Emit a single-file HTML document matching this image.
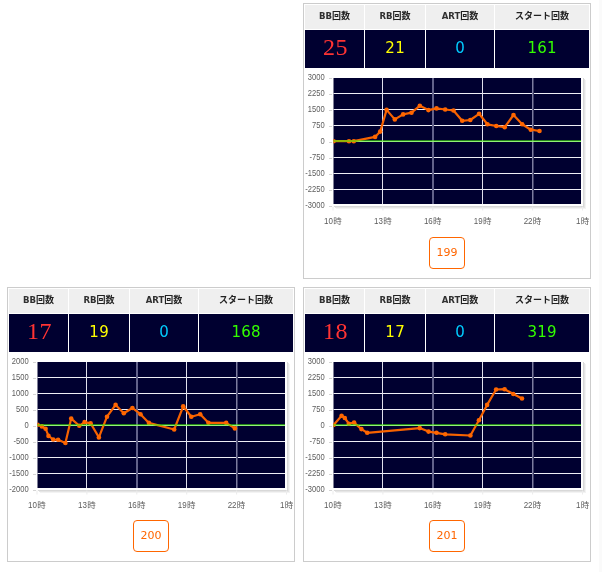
<!DOCTYPE html>
<html lang="ja"><head><meta charset="utf-8"><title>data</title>
<style>
html,body{margin:0;padding:0;background:#fff;}
body{width:602px;height:572px;position:relative;overflow:hidden;font-family:"DejaVu Sans","Noto Sans CJK JP",sans-serif;}
.strip{position:absolute;left:599px;top:0;width:3px;height:572px;background:#fafafa;}
.card{position:absolute;width:286px;border:1px solid #ccc;background:#fff;overflow:hidden;}
.h,.v{position:absolute;text-align:center;white-space:nowrap;}
.h{top:1px;height:24px;line-height:22px;background:#efefef;color:#222;font-weight:bold;font-size:9px;font-family:"Liberation Sans","Noto Sans CJK JP",sans-serif;}
.h b{color:#303030;font-family:"DejaVu Sans Condensed","DejaVu Sans","Liberation Sans",sans-serif;font-stretch:condensed;font-size:9.5px;}
.v{top:26px;height:38px;line-height:37px;background:#000030;font-family:"DejaVu Sans",sans-serif;font-size:15px;letter-spacing:0.3px;text-indent:0.3px;}
.c1{left:1px;width:59px}.c2{left:61px;width:60px}.c3{left:122px;width:68px}.c4{left:191px;width:94px}
.v.c1{color:#ff3333;font-family:"Liberation Serif",serif;font-size:24px;line-height:34px;text-indent:2.2px;letter-spacing:0.6px;}
.v.c2{color:#ffff00;}
.v.c3{color:#00ccff;}
.v.c4{color:#33ff00;}
svg{position:absolute;left:-1px;top:-1px;}
.yl{font-family:"Liberation Sans",sans-serif;font-size:8.4px;fill:#5c5c5c;text-anchor:end;}
.xd{font-family:"Liberation Sans",sans-serif;font-size:8.4px;fill:#5c5c5c;text-anchor:end;}
.xk{font-family:"Liberation Sans","Noto Sans CJK JP",sans-serif;font-size:8.5px;fill:#5c5c5c;text-anchor:start;}
.btn{position:absolute;left:125px;top:233px;width:34px;height:30px;line-height:30px;border:1px solid #ff6600;border-radius:4px;color:#ff6600;font-size:11px;text-align:center;background:#fff;}
</style></head><body>
<div class="strip"></div>
<div class="card" style="left:303px;top:3px;height:274px">
<svg width="288" height="276" viewBox="0 0 288 276">
<defs><clipPath id="cp199"><rect x="30.5" y="75.0" width="247.5" height="126.0"/></clipPath></defs>
<rect x="280" y="75" width="1" height="129" fill="#d8d8d8"/>
<rect x="31" y="203" width="250" height="1" fill="#d8d8d8"/>
<rect x="281" y="76" width="1" height="129" fill="#e5e5e5"/>
<rect x="32" y="204" width="250" height="1" fill="#e5e5e5"/>
<rect x="282" y="77" width="1" height="129" fill="#f3f3f3"/>
<rect x="33" y="205" width="250" height="1" fill="#f3f3f3"/>
<rect x="30.5" y="75.0" width="247.5" height="126.0" fill="#000030"/>
<rect x="30.5" y="90" width="247.5" height="1" fill="#eeeef5"/>
<rect x="30.5" y="106" width="247.5" height="1" fill="#eeeef5"/>
<rect x="30.5" y="122" width="247.5" height="1" fill="#eeeef5"/>
<rect x="30.5" y="154" width="247.5" height="1" fill="#eeeef5"/>
<rect x="30.5" y="170" width="247.5" height="1" fill="#eeeef5"/>
<rect x="30.5" y="186" width="247.5" height="1" fill="#eeeef5"/>
<rect x="79.0" y="75.0" width="1" height="126.0" fill="#e0e0ec"/>
<rect x="129" y="75.0" width="1" height="126.0" fill="#62628a"/><rect x="130" y="75.0" width="1" height="126.0" fill="#62628a"/>
<rect x="179.0" y="75.0" width="1" height="126.0" fill="#e0e0ec"/>
<rect x="229" y="75.0" width="1" height="126.0" fill="#7c7c9f"/><rect x="230" y="75.0" width="1" height="126.0" fill="#3e3e66"/>
<rect x="26" y="75" width="3" height="1" fill="#d4d4d4"/>
<text class="yl" transform="translate(21.6,77.2) scale(0.9,1)">3000</text>
<rect x="26" y="91" width="3" height="1" fill="#d4d4d4"/>
<text class="yl" transform="translate(21.6,93.2) scale(0.9,1)">2250</text>
<rect x="26" y="107" width="3" height="1" fill="#d4d4d4"/>
<text class="yl" transform="translate(21.6,109.2) scale(0.9,1)">1500</text>
<rect x="26" y="123" width="3" height="1" fill="#d4d4d4"/>
<text class="yl" transform="translate(21.6,125.2) scale(0.9,1)">750</text>
<rect x="26" y="139" width="3" height="1" fill="#d4d4d4"/>
<text class="yl" transform="translate(21.6,141.2) scale(0.9,1)">0</text>
<rect x="26" y="155" width="3" height="1" fill="#d4d4d4"/>
<text class="yl" transform="translate(21.6,157.2) scale(0.9,1)">-750</text>
<rect x="26" y="171" width="3" height="1" fill="#d4d4d4"/>
<text class="yl" transform="translate(21.6,173.2) scale(0.9,1)">-1500</text>
<rect x="26" y="187" width="3" height="1" fill="#d4d4d4"/>
<text class="yl" transform="translate(21.6,189.2) scale(0.9,1)">-2250</text>
<rect x="26" y="203" width="3" height="1" fill="#d4d4d4"/>
<text class="yl" transform="translate(21.6,205.2) scale(0.9,1)">-3000</text>
<rect x="29.50" y="203.5" width="1" height="4" fill="#ececec"/>
<text class="xd" transform="translate(29.95,221.2) scale(0.95,1)">10</text><text class="xk" x="30.25" y="220.7">時</text>
<rect x="79.40" y="203.5" width="1" height="4" fill="#ececec"/>
<text class="xd" transform="translate(79.85,221.2) scale(0.95,1)">13</text><text class="xk" x="80.15" y="220.7">時</text>
<rect x="129.30" y="203.5" width="1" height="4" fill="#ececec"/>
<text class="xd" transform="translate(129.75,221.2) scale(0.95,1)">16</text><text class="xk" x="130.05" y="220.7">時</text>
<rect x="179.20" y="203.5" width="1" height="4" fill="#ececec"/>
<text class="xd" transform="translate(179.65,221.2) scale(0.95,1)">19</text><text class="xk" x="179.95" y="220.7">時</text>
<rect x="229.10" y="203.5" width="1" height="4" fill="#ececec"/>
<text class="xd" transform="translate(229.55,221.2) scale(0.95,1)">22</text><text class="xk" x="229.85" y="220.7">時</text>
<rect x="279.00" y="203.5" width="1" height="4" fill="#ececec"/>
<text class="xd" transform="translate(277.35,221.2) scale(0.95,1)">1</text><text class="xk" x="277.65" y="220.7">時</text>
<rect x="30.5" y="138" width="247.5" height="1" fill="#eeeef5"/>
<g clip-path="url(#cp199)">
<polyline points="30.6,138.2 46.0,138.2 50.8,138.2 72.1,133.9 77.2,128.6 83.6,106.9 91.8,116.4 100.1,111.4 108.5,109.7 116.8,102.8 125.4,107.1 133.5,105.4 142.2,106.5 150.5,107.5 159.2,117.8 167.3,117.0 176.1,110.8 184.4,121.3 193.3,123.0 201.7,124.2 210.5,112.0 219.2,121.3 227.8,126.7 236.5,128.0" fill="none" stroke="#f66200" stroke-width="2.2" stroke-linejoin="round" stroke-linecap="round"/>
<circle cx="30.6" cy="138.2" r="2.3" fill="#ff6600"/>
<circle cx="46.0" cy="138.2" r="2.3" fill="#ff6600"/>
<circle cx="50.8" cy="138.2" r="2.3" fill="#ff6600"/>
<circle cx="72.1" cy="133.9" r="2.3" fill="#ff6600"/>
<circle cx="77.2" cy="128.6" r="2.3" fill="#ff6600"/>
<circle cx="83.6" cy="106.9" r="2.3" fill="#ff6600"/>
<circle cx="91.8" cy="116.4" r="2.3" fill="#ff6600"/>
<circle cx="100.1" cy="111.4" r="2.3" fill="#ff6600"/>
<circle cx="108.5" cy="109.7" r="2.3" fill="#ff6600"/>
<circle cx="116.8" cy="102.8" r="2.3" fill="#ff6600"/>
<circle cx="125.4" cy="107.1" r="2.3" fill="#ff6600"/>
<circle cx="133.5" cy="105.4" r="2.3" fill="#ff6600"/>
<circle cx="142.2" cy="106.5" r="2.3" fill="#ff6600"/>
<circle cx="150.5" cy="107.5" r="2.3" fill="#ff6600"/>
<circle cx="159.2" cy="117.8" r="2.3" fill="#ff6600"/>
<circle cx="167.3" cy="117.0" r="2.3" fill="#ff6600"/>
<circle cx="176.1" cy="110.8" r="2.3" fill="#ff6600"/>
<circle cx="184.4" cy="121.3" r="2.3" fill="#ff6600"/>
<circle cx="193.3" cy="123.0" r="2.3" fill="#ff6600"/>
<circle cx="201.7" cy="124.2" r="2.3" fill="#ff6600"/>
<circle cx="210.5" cy="112.0" r="2.3" fill="#ff6600"/>
<circle cx="219.2" cy="121.3" r="2.3" fill="#ff6600"/>
<circle cx="227.8" cy="126.7" r="2.3" fill="#ff6600"/>
<circle cx="236.5" cy="128.0" r="2.3" fill="#ff6600"/>
</g>
<rect x="30.5" y="137" width="247.5" height="2" fill="#46f50a" opacity="0.55"/>
</svg>
<div class="h c1"><b>BB</b>回数</div>
<div class="h c2"><b>RB</b>回数</div>
<div class="h c3"><b>ART</b>回数</div>
<div class="h c4">スタート回数</div>
<div class="v c1">25</div>
<div class="v c2">21</div>
<div class="v c3">0</div>
<div class="v c4">161</div>
<div class="btn" style="top:233px">199</div>
</div>
<div class="card" style="left:7px;top:287px;height:273px">
<svg width="288" height="275" viewBox="0 0 288 275">
<defs><clipPath id="cp200"><rect x="30.5" y="75.0" width="247.5" height="126.0"/></clipPath></defs>
<rect x="280" y="75" width="1" height="129" fill="#d8d8d8"/>
<rect x="31" y="203" width="250" height="1" fill="#d8d8d8"/>
<rect x="281" y="76" width="1" height="129" fill="#e5e5e5"/>
<rect x="32" y="204" width="250" height="1" fill="#e5e5e5"/>
<rect x="282" y="77" width="1" height="129" fill="#f3f3f3"/>
<rect x="33" y="205" width="250" height="1" fill="#f3f3f3"/>
<rect x="30.5" y="75.0" width="247.5" height="126.0" fill="#000030"/>
<rect x="30.5" y="90" width="247.5" height="1" fill="#eeeef5"/>
<rect x="30.5" y="106" width="247.5" height="1" fill="#eeeef5"/>
<rect x="30.5" y="122" width="247.5" height="1" fill="#eeeef5"/>
<rect x="30.5" y="154" width="247.5" height="1" fill="#eeeef5"/>
<rect x="30.5" y="170" width="247.5" height="1" fill="#eeeef5"/>
<rect x="30.5" y="186" width="247.5" height="1" fill="#eeeef5"/>
<rect x="79.0" y="75.0" width="1" height="126.0" fill="#e0e0ec"/>
<rect x="129" y="75.0" width="1" height="126.0" fill="#62628a"/><rect x="130" y="75.0" width="1" height="126.0" fill="#62628a"/>
<rect x="179.0" y="75.0" width="1" height="126.0" fill="#e0e0ec"/>
<rect x="229" y="75.0" width="1" height="126.0" fill="#7c7c9f"/><rect x="230" y="75.0" width="1" height="126.0" fill="#3e3e66"/>
<rect x="26" y="75" width="3" height="1" fill="#d4d4d4"/>
<text class="yl" transform="translate(21.6,77.2) scale(0.9,1)">2000</text>
<rect x="26" y="91" width="3" height="1" fill="#d4d4d4"/>
<text class="yl" transform="translate(21.6,93.2) scale(0.9,1)">1500</text>
<rect x="26" y="107" width="3" height="1" fill="#d4d4d4"/>
<text class="yl" transform="translate(21.6,109.2) scale(0.9,1)">1000</text>
<rect x="26" y="123" width="3" height="1" fill="#d4d4d4"/>
<text class="yl" transform="translate(21.6,125.2) scale(0.9,1)">500</text>
<rect x="26" y="139" width="3" height="1" fill="#d4d4d4"/>
<text class="yl" transform="translate(21.6,141.2) scale(0.9,1)">0</text>
<rect x="26" y="155" width="3" height="1" fill="#d4d4d4"/>
<text class="yl" transform="translate(21.6,157.2) scale(0.9,1)">-500</text>
<rect x="26" y="171" width="3" height="1" fill="#d4d4d4"/>
<text class="yl" transform="translate(21.6,173.2) scale(0.9,1)">-1000</text>
<rect x="26" y="187" width="3" height="1" fill="#d4d4d4"/>
<text class="yl" transform="translate(21.6,189.2) scale(0.9,1)">-1500</text>
<rect x="26" y="203" width="3" height="1" fill="#d4d4d4"/>
<text class="yl" transform="translate(21.6,205.2) scale(0.9,1)">-2000</text>
<rect x="29.50" y="203.5" width="1" height="4" fill="#ececec"/>
<text class="xd" transform="translate(29.95,221.2) scale(0.95,1)">10</text><text class="xk" x="30.25" y="220.7">時</text>
<rect x="79.40" y="203.5" width="1" height="4" fill="#ececec"/>
<text class="xd" transform="translate(79.85,221.2) scale(0.95,1)">13</text><text class="xk" x="80.15" y="220.7">時</text>
<rect x="129.30" y="203.5" width="1" height="4" fill="#ececec"/>
<text class="xd" transform="translate(129.75,221.2) scale(0.95,1)">16</text><text class="xk" x="130.05" y="220.7">時</text>
<rect x="179.20" y="203.5" width="1" height="4" fill="#ececec"/>
<text class="xd" transform="translate(179.65,221.2) scale(0.95,1)">19</text><text class="xk" x="179.95" y="220.7">時</text>
<rect x="229.10" y="203.5" width="1" height="4" fill="#ececec"/>
<text class="xd" transform="translate(229.55,221.2) scale(0.95,1)">22</text><text class="xk" x="229.85" y="220.7">時</text>
<rect x="279.00" y="203.5" width="1" height="4" fill="#ececec"/>
<text class="xd" transform="translate(277.35,221.2) scale(0.95,1)">1</text><text class="xk" x="277.65" y="220.7">時</text>
<rect x="30.5" y="138" width="247.5" height="1" fill="#eeeef5"/>
<g clip-path="url(#cp200)">
<polyline points="30.6,137.7 34.9,139.4 38.6,141.7 41.5,148.9 46.2,152.5 51.1,152.8 58.4,156.0 64.2,131.6 72.3,138.8 77.6,135.1 83.6,136.3 91.9,150.4 100.0,129.7 108.6,117.9 116.8,126.3 125.4,121.0 133.5,127.2 141.9,135.9 167.2,142.5 176.2,119.3 184.3,129.7 193.2,127.2 201.4,135.8 219.2,135.9 227.9,141.4" fill="none" stroke="#f66200" stroke-width="2.2" stroke-linejoin="round" stroke-linecap="round"/>
<circle cx="30.6" cy="137.7" r="2.3" fill="#ff6600"/>
<circle cx="34.9" cy="139.4" r="2.3" fill="#ff6600"/>
<circle cx="38.6" cy="141.7" r="2.3" fill="#ff6600"/>
<circle cx="41.5" cy="148.9" r="2.3" fill="#ff6600"/>
<circle cx="46.2" cy="152.5" r="2.3" fill="#ff6600"/>
<circle cx="51.1" cy="152.8" r="2.3" fill="#ff6600"/>
<circle cx="58.4" cy="156.0" r="2.3" fill="#ff6600"/>
<circle cx="64.2" cy="131.6" r="2.3" fill="#ff6600"/>
<circle cx="72.3" cy="138.8" r="2.3" fill="#ff6600"/>
<circle cx="77.6" cy="135.1" r="2.3" fill="#ff6600"/>
<circle cx="83.6" cy="136.3" r="2.3" fill="#ff6600"/>
<circle cx="91.9" cy="150.4" r="2.3" fill="#ff6600"/>
<circle cx="100.0" cy="129.7" r="2.3" fill="#ff6600"/>
<circle cx="108.6" cy="117.9" r="2.3" fill="#ff6600"/>
<circle cx="116.8" cy="126.3" r="2.3" fill="#ff6600"/>
<circle cx="125.4" cy="121.0" r="2.3" fill="#ff6600"/>
<circle cx="133.5" cy="127.2" r="2.3" fill="#ff6600"/>
<circle cx="141.9" cy="135.9" r="2.3" fill="#ff6600"/>
<circle cx="167.2" cy="142.5" r="2.3" fill="#ff6600"/>
<circle cx="176.2" cy="119.3" r="2.3" fill="#ff6600"/>
<circle cx="184.3" cy="129.7" r="2.3" fill="#ff6600"/>
<circle cx="193.2" cy="127.2" r="2.3" fill="#ff6600"/>
<circle cx="201.4" cy="135.8" r="2.3" fill="#ff6600"/>
<circle cx="219.2" cy="135.9" r="2.3" fill="#ff6600"/>
<circle cx="227.9" cy="141.4" r="2.3" fill="#ff6600"/>
</g>
<rect x="30.5" y="137" width="247.5" height="2" fill="#46f50a" opacity="0.55"/>
</svg>
<div class="h c1"><b>BB</b>回数</div>
<div class="h c2"><b>RB</b>回数</div>
<div class="h c3"><b>ART</b>回数</div>
<div class="h c4">スタート回数</div>
<div class="v c1">17</div>
<div class="v c2">19</div>
<div class="v c3">0</div>
<div class="v c4">168</div>
<div class="btn" style="top:232px">200</div>
</div>
<div class="card" style="left:303px;top:287px;height:273px">
<svg width="288" height="275" viewBox="0 0 288 275">
<defs><clipPath id="cp201"><rect x="30.5" y="75.0" width="247.5" height="126.0"/></clipPath></defs>
<rect x="280" y="75" width="1" height="129" fill="#d8d8d8"/>
<rect x="31" y="203" width="250" height="1" fill="#d8d8d8"/>
<rect x="281" y="76" width="1" height="129" fill="#e5e5e5"/>
<rect x="32" y="204" width="250" height="1" fill="#e5e5e5"/>
<rect x="282" y="77" width="1" height="129" fill="#f3f3f3"/>
<rect x="33" y="205" width="250" height="1" fill="#f3f3f3"/>
<rect x="30.5" y="75.0" width="247.5" height="126.0" fill="#000030"/>
<rect x="30.5" y="90" width="247.5" height="1" fill="#eeeef5"/>
<rect x="30.5" y="106" width="247.5" height="1" fill="#eeeef5"/>
<rect x="30.5" y="122" width="247.5" height="1" fill="#eeeef5"/>
<rect x="30.5" y="154" width="247.5" height="1" fill="#eeeef5"/>
<rect x="30.5" y="170" width="247.5" height="1" fill="#eeeef5"/>
<rect x="30.5" y="186" width="247.5" height="1" fill="#eeeef5"/>
<rect x="79.0" y="75.0" width="1" height="126.0" fill="#e0e0ec"/>
<rect x="129" y="75.0" width="1" height="126.0" fill="#62628a"/><rect x="130" y="75.0" width="1" height="126.0" fill="#62628a"/>
<rect x="179.0" y="75.0" width="1" height="126.0" fill="#e0e0ec"/>
<rect x="229" y="75.0" width="1" height="126.0" fill="#7c7c9f"/><rect x="230" y="75.0" width="1" height="126.0" fill="#3e3e66"/>
<rect x="26" y="75" width="3" height="1" fill="#d4d4d4"/>
<text class="yl" transform="translate(21.6,77.2) scale(0.9,1)">3000</text>
<rect x="26" y="91" width="3" height="1" fill="#d4d4d4"/>
<text class="yl" transform="translate(21.6,93.2) scale(0.9,1)">2250</text>
<rect x="26" y="107" width="3" height="1" fill="#d4d4d4"/>
<text class="yl" transform="translate(21.6,109.2) scale(0.9,1)">1500</text>
<rect x="26" y="123" width="3" height="1" fill="#d4d4d4"/>
<text class="yl" transform="translate(21.6,125.2) scale(0.9,1)">750</text>
<rect x="26" y="139" width="3" height="1" fill="#d4d4d4"/>
<text class="yl" transform="translate(21.6,141.2) scale(0.9,1)">0</text>
<rect x="26" y="155" width="3" height="1" fill="#d4d4d4"/>
<text class="yl" transform="translate(21.6,157.2) scale(0.9,1)">-750</text>
<rect x="26" y="171" width="3" height="1" fill="#d4d4d4"/>
<text class="yl" transform="translate(21.6,173.2) scale(0.9,1)">-1500</text>
<rect x="26" y="187" width="3" height="1" fill="#d4d4d4"/>
<text class="yl" transform="translate(21.6,189.2) scale(0.9,1)">-2250</text>
<rect x="26" y="203" width="3" height="1" fill="#d4d4d4"/>
<text class="yl" transform="translate(21.6,205.2) scale(0.9,1)">-3000</text>
<rect x="29.50" y="203.5" width="1" height="4" fill="#ececec"/>
<text class="xd" transform="translate(29.95,221.2) scale(0.95,1)">10</text><text class="xk" x="30.25" y="220.7">時</text>
<rect x="79.40" y="203.5" width="1" height="4" fill="#ececec"/>
<text class="xd" transform="translate(79.85,221.2) scale(0.95,1)">13</text><text class="xk" x="80.15" y="220.7">時</text>
<rect x="129.30" y="203.5" width="1" height="4" fill="#ececec"/>
<text class="xd" transform="translate(129.75,221.2) scale(0.95,1)">16</text><text class="xk" x="130.05" y="220.7">時</text>
<rect x="179.20" y="203.5" width="1" height="4" fill="#ececec"/>
<text class="xd" transform="translate(179.65,221.2) scale(0.95,1)">19</text><text class="xk" x="179.95" y="220.7">時</text>
<rect x="229.10" y="203.5" width="1" height="4" fill="#ececec"/>
<text class="xd" transform="translate(229.55,221.2) scale(0.95,1)">22</text><text class="xk" x="229.85" y="220.7">時</text>
<rect x="279.00" y="203.5" width="1" height="4" fill="#ececec"/>
<text class="xd" transform="translate(277.35,221.2) scale(0.95,1)">1</text><text class="xk" x="277.65" y="220.7">時</text>
<rect x="30.5" y="138" width="247.5" height="1" fill="#eeeef5"/>
<g clip-path="url(#cp201)">
<polyline points="30.6,138.0 38.6,128.7 41.8,131.0 45.8,136.7 51.1,135.6 58.4,142.1 64.2,145.8 116.7,141.1 125.5,144.6 133.5,145.8 142.2,147.3 167.4,148.5 175.9,133.3 184.1,117.9 193.1,102.5 201.6,102.2 210.3,107.0 219.0,111.5" fill="none" stroke="#f66200" stroke-width="2.2" stroke-linejoin="round" stroke-linecap="round"/>
<circle cx="30.6" cy="138.0" r="2.3" fill="#ff6600"/>
<circle cx="38.6" cy="128.7" r="2.3" fill="#ff6600"/>
<circle cx="41.8" cy="131.0" r="2.3" fill="#ff6600"/>
<circle cx="45.8" cy="136.7" r="2.3" fill="#ff6600"/>
<circle cx="51.1" cy="135.6" r="2.3" fill="#ff6600"/>
<circle cx="58.4" cy="142.1" r="2.3" fill="#ff6600"/>
<circle cx="64.2" cy="145.8" r="2.3" fill="#ff6600"/>
<circle cx="116.7" cy="141.1" r="2.3" fill="#ff6600"/>
<circle cx="125.5" cy="144.6" r="2.3" fill="#ff6600"/>
<circle cx="133.5" cy="145.8" r="2.3" fill="#ff6600"/>
<circle cx="142.2" cy="147.3" r="2.3" fill="#ff6600"/>
<circle cx="167.4" cy="148.5" r="2.3" fill="#ff6600"/>
<circle cx="175.9" cy="133.3" r="2.3" fill="#ff6600"/>
<circle cx="184.1" cy="117.9" r="2.3" fill="#ff6600"/>
<circle cx="193.1" cy="102.5" r="2.3" fill="#ff6600"/>
<circle cx="201.6" cy="102.2" r="2.3" fill="#ff6600"/>
<circle cx="210.3" cy="107.0" r="2.3" fill="#ff6600"/>
<circle cx="219.0" cy="111.5" r="2.3" fill="#ff6600"/>
</g>
<rect x="30.5" y="137" width="247.5" height="2" fill="#46f50a" opacity="0.55"/>
</svg>
<div class="h c1"><b>BB</b>回数</div>
<div class="h c2"><b>RB</b>回数</div>
<div class="h c3"><b>ART</b>回数</div>
<div class="h c4">スタート回数</div>
<div class="v c1">18</div>
<div class="v c2">17</div>
<div class="v c3">0</div>
<div class="v c4">319</div>
<div class="btn" style="top:232px">201</div>
</div>
</body></html>
